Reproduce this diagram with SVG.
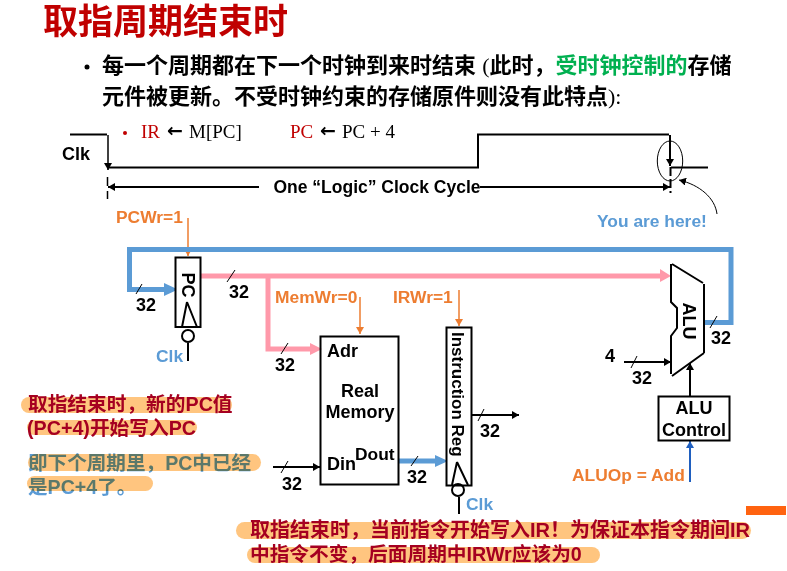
<svg xmlns="http://www.w3.org/2000/svg" width="787" height="571" viewBox="0 0 787 571">
<style>
text{font-family:"Liberation Sans","Noto Sans CJK SC",sans-serif;font-weight:bold}
.k{font-size:18px;fill:#000}
.o{font-size:17.4px;fill:#ed7d31}
.b{font-size:17.4px;fill:#5b9bd5}
.m{text-anchor:middle}
.s{font-family:"Liberation Serif",serif;font-size:19px;font-weight:normal}
.ar{font-family:"DejaVu Sans",sans-serif;font-size:19px;font-weight:bold;fill:#000}
.r{fill:#c00000}
.t{fill:#000}
.c{font-size:19.7px;fill:#a50021}
.g{font-size:19.6px;fill:#5b9bd5;mix-blend-mode:multiply}
.body{font-size:22px;fill:#000}
.paren{font-family:"Liberation Serif",serif;font-weight:normal}
.l{fill:none;stroke:#000;stroke-width:2}
.th{fill:none;stroke:#000;stroke-width:1}
.pk{fill:none;stroke:#ff99aa;stroke-width:5}
.bl{fill:none;stroke:#5b9bd5;stroke-width:5}
.og{fill:none;stroke:#ed7d31;stroke-width:1.5}
.hl{fill:#ffc57f}
</style>
<defs>
<marker id="ka" markerUnits="userSpaceOnUse" markerWidth="8" markerHeight="8" refX="7" refY="4" orient="auto"><path d="M0,0L7,4L0,8z" fill="#000"/></marker>
<marker id="oa" markerUnits="userSpaceOnUse" markerWidth="8" markerHeight="8" refX="7" refY="4" orient="auto"><path d="M0,0L7,4L0,8z" fill="#ed7d31"/></marker>
<marker id="da" markerUnits="userSpaceOnUse" markerWidth="8" markerHeight="8" refX="7" refY="4" orient="auto"><path d="M0,0L7,4L0,8z" fill="#1f5fbf"/></marker>
</defs>
<g id="title">
<text x="43" y="34" style="fill:#c00000;font-size:35px;font-weight:bold">取指周期结束时</text>
<circle cx="87" cy="67" r="2.5" fill="#000"/>
<text class="body" x="102" y="73">每一个周期都在下一个时钟到来时结束 <tspan class="paren">(</tspan>此时，<tspan fill="#00b050">受时钟控制的</tspan>存储</text>
<text class="body" x="102" y="104">元件被更新。不受时钟约束的存储原件则没有此特点<tspan class="paren">):</tspan></text>
</g>
<g id="rtl">
<circle cx="125" cy="133" r="2" fill="#c00000"/>
<text class="s r" x="141" y="138">IR</text><text class="ar" x="167" y="137">←</text><text class="s t" x="189" y="138">M[PC]</text>
<text class="s r" x="290" y="138">PC</text><text class="ar" x="320" y="137">←</text><text class="s t" x="342" y="138">PC + 4</text>
</g>
<g id="clock">
<path class="l" d="M70,134.500H107M109,167.500H478V134.500H669M671,167.500H708"/>
<text class="k" x="62" y="160">Clk</text>
<path class="l" d="M108,135V170" marker-end="url(#ka)" style="stroke-width:1.500"/>
<path class="l" d="M670,135V166" marker-end="url(#ka)"/>
<path class="l" d="M107.500,177V199" stroke-dasharray="9 5" style="stroke-width:1.500"/>
<path class="l" d="M670.500,167V193" stroke-dasharray="9 3"/>
<ellipse class="th" cx="670" cy="161" rx="12.700" ry="20"/>
<path class="l" d="M259,187H108" marker-end="url(#ka)"/>
<path class="l" d="M480,187H670" marker-end="url(#ka)"/>
<text class="k m" x="377" y="193" style="font-size:17.5px">One “Logic” Clock Cycle</text>
<path class="th" d="M717,214C715,198 700,185 679,180" marker-end="url(#ka)"/>
<text class="b" x="597" y="227">You are here!</text>
</g>
<g id="connectors">
<path class="og" d="M188,218V256" marker-end="url(#oa)"/>
<path class="og" d="M360,297V334" marker-end="url(#oa)"/>
<path class="og" d="M459,290V326" marker-end="url(#oa)"/>
<path class="bl" d="M703,322.500H731V249.500H129.500V289.500H166"/>
<path d="M164,283L178,289.500L164,296z" fill="#5b9bd5"/>
<path class="pk" d="M200,276H662M268,276V349H312"/>
<path d="M660,269L671,276L660,282z" fill="#ff99aa"/>
<path d="M310,343L322,349L310,355z" fill="#ff99aa"/>
<path class="bl" d="M398,461H437"/>
<path d="M435,455L448,461L435,467z" fill="#5b9bd5"/>
<path class="l" d="M273,467H320" marker-end="url(#ka)"/>
<path class="l" d="M472,415H519" marker-end="url(#ka)"/>
<path class="l" d="M624,362H671" marker-end="url(#ka)"/>
<path class="l" d="M690,396V363" marker-end="url(#ka)"/>
<path fill="none" stroke="#1f5fbf" stroke-width="2" d="M690,482V441" marker-end="url(#da)"/>
<path class="th" d="M136,294L142,284M227,282L235,270M281,354L288,343M281,473L288,461M411,466L418,456M478,421L484,409M631,368L637,356M710,328L717,316"/>
<path class="l" d="M188,343V361"/>
<path class="l" d="M459,497V514"/>
</g>
<g id="pc">
<rect class="l" x="175.500" y="257.500" width="25" height="69.500" style="fill:#fff"/>
<path class="l" d="M187,302L182,327M187,302L197,327"/>
<circle class="l" cx="188" cy="336" r="6"/>
<text class="k m" transform="translate(182,285) rotate(90)">PC</text>
<text class="b" x="156" y="362">Clk</text>
</g>
<g id="memory">
<rect class="l" x="320.500" y="336.500" width="78" height="148"/>
<text class="k" x="327" y="357">Adr</text>
<text class="k m" x="360" y="397">Real</text>
<text class="k m" x="360" y="418">Memory</text>
<text class="k" x="327" y="470">Din</text>
<text class="k" x="355" y="460" style="font-size:17.4px">Dout</text>
</g>
<g id="ir">
<rect class="l" x="446.500" y="327.500" width="25" height="158" style="fill:#fff"/>
<path class="l" d="M457,462L452,485M457,462L468,485"/>
<circle class="l" cx="458" cy="490" r="6"/>
<text class="k" transform="translate(452,332) rotate(90)" style="font-size:17px">Instruction Reg</text>
<text class="b" x="466" y="510">Clk</text>
</g>
<g id="alu">
<path class="l" d="M672,264L703,283M704,284V353M704,353L672,376M671,374V336L677,328V308L671,302V264"/>
<text class="k m" transform="translate(683,321) rotate(90)">ALU</text>
</g>
<g id="alucontrol">
<rect class="l" x="658.500" y="396.500" width="71" height="44"/>
<text class="k m" x="694" y="414">ALU</text>
<text class="k m" x="694" y="436">Control</text>
</g>
<g id="labels">
<text class="o" x="116" y="223">PCWr=1</text>
<text class="o" x="275" y="303">MemWr=0</text>
<text class="o" x="393" y="303">IRWr=1</text>
<text class="o" x="572" y="481">ALUOp = Add</text>
<text class="k" x="136" y="311">32</text>
<text class="k" x="229" y="298">32</text>
<text class="k" x="275" y="371">32</text>
<text class="k" x="282" y="490">32</text>
<text class="k" x="407" y="483">32</text>
<text class="k" x="480" y="437">32</text>
<text class="k" x="632" y="384">32</text>
<text class="k" x="711" y="344">32</text>
<text class="k" x="605" y="362">4</text>
</g>
<g id="note-left">
<rect class="hl" x="21" y="397" width="211" height="16" rx="8"/>
<rect class="hl" x="27" y="420" width="170" height="15" rx="7.500"/>
<rect class="hl" x="28" y="454" width="233" height="17" rx="8.500"/>
<rect class="hl" x="27" y="476" width="126" height="15" rx="7.500"/>
<text class="c" x="28" y="411">取指结束时，新的PC值</text>
<text class="c" x="27" y="435">(PC+4)开始写入PC</text>
<text class="g" x="28" y="470">即下个周期里，PC中已经</text>
<text class="g" x="28" y="494">是PC+4了。</text>
</g>
<g id="note-bottom">
<rect class="hl" x="236" y="522" width="515" height="17" rx="8.500"/>
<rect class="hl" x="247" y="547" width="353" height="16" rx="8"/>
<text class="c" x="250" y="537" style="font-size:20px">取指结束时，当前指令开始写入IR！为保证本指令期间IR</text>
<text class="c" x="250" y="561">中指令不变，后面周期中IRWr应该为0</text>
</g>
<rect id="corner" x="746" y="506" width="40" height="9" fill="#ff6310"/>
</svg>
